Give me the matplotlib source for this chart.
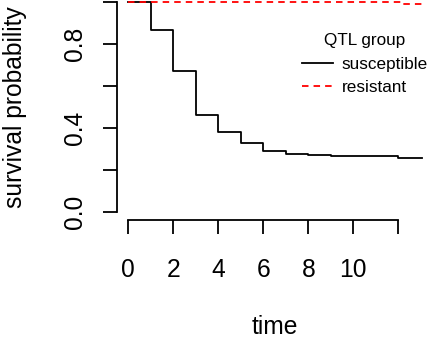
import numpy as np
import matplotlib
matplotlib.use("Agg")
import matplotlib.pyplot as plt

plt.rcParams['font.family'] = ['Liberation Sans', 'DejaVu Sans']

# Kaplan-Meier style survival curves
time_susceptible = [0, 1, 2, 3, 4, 5, 6, 7, 8, 9, 12, 13.05]
surv_susceptible = [1.0, 0.865, 0.671, 0.46, 0.379, 0.33, 0.292, 0.275, 0.271, 0.267, 0.259, 0.259]
time_resistant = [0, 12.2, 13.05]
surv_resistant = [1.0, 0.992, 0.992]

x_ticks = [0, 2, 4, 6, 8, 10, 12]
x_ticklabels = ['0', '2', '4', '6', '8', '10', '']
y_ticks = [0.0, 0.2, 0.4, 0.6, 0.8, 1.0]
y_ticklabels = ['0.0', '', '0.4', '', '0.8', '']

W, H = 429, 337
fig = plt.figure(figsize=(W / 100, H / 100), dpi=100)
# R-style plot region (partly cropped off at top and right)
ax = fig.add_axes([116.6 / W, 116.6 / H, 315.9 / W, 226.8 / H])

ax.step(time_susceptible, surv_susceptible, where='post', color='black', lw=1.3, label='susceptible')
ax.step(time_resistant, surv_resistant, where='post', color='#ff0000', lw=1.3,
        dashes=(3.6, 2.8), label='resistant')

ax.set_xlim(-0.52, 13.52)
ax.set_ylim(-0.04, 1.04)

for s in ['top', 'right']:
    ax.spines[s].set_visible(False)
ax.spines['left'].set_bounds(0, 1)
ax.spines['bottom'].set_bounds(0, 12)
for s in ['left', 'bottom']:
    ax.spines[s].set_linewidth(1.3)

ax.set_xticks(x_ticks)
ax.set_xticklabels(x_ticklabels)
ax.set_yticks(y_ticks)
ax.set_yticklabels(y_ticklabels, rotation=90, va='center')
ax.tick_params(axis='x', direction='out', length=10.3, width=1.3, labelsize=17.7, pad=16.6)
ax.tick_params(axis='y', direction='out', length=10.3, width=1.3, labelsize=17.7, pad=11.3)

ax.set_xlabel('time', fontsize=17.7, va='center')
ax.xaxis.set_label_coords(0.5, -0.468)
ax.set_ylabel('survival probability', fontsize=17.7, va='center')
ax.yaxis.set_label_coords(-0.3216, 0.5)

leg = ax.legend(title='QTL group', frameon=False, fontsize=12.3, title_fontsize=12.3,
                loc='upper left', bbox_to_anchor=(301.7 / W, 1 - 33 / H),
                bbox_transform=fig.transFigure, borderpad=0, borderaxespad=0,
                handlelength=1.85, handletextpad=0.49, labelspacing=0.5)

fig.savefig('out.png', dpi=100)
